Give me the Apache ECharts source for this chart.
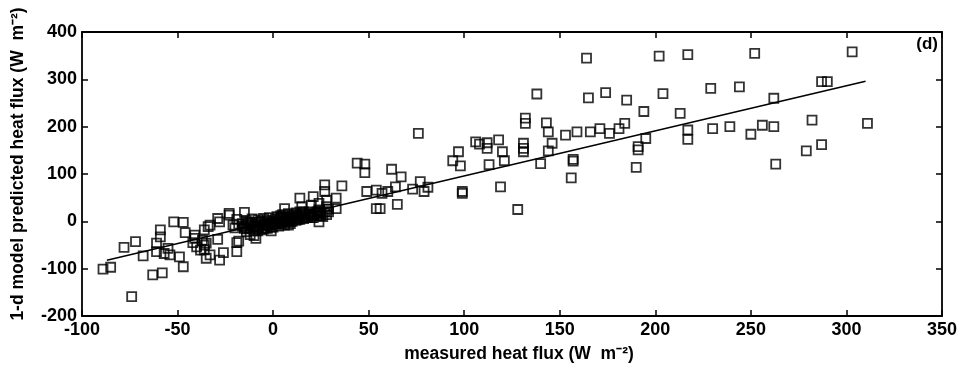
<!DOCTYPE html>
<html>
<head>
<meta charset="utf-8">
<script src="https://cdn.jsdelivr.net/npm/echarts@6/dist/echarts.min.js"></script>
<style>html,body{margin:0;padding:0;background:#fff}#c{width:960px;height:376px}</style>
</head>
<body>
<div id="c"></div>
<script>
// measured heat flux (x) and 1-d model predicted heat flux (y), W m^-2
const measured = [
  -89,-85,-78,-72,-68,-74,-63,-58,-61,-61,-59,-59,-57,-55,-54,-52,-47,-46,-49,-47,
  -41,-40,-37,-41,-38,-36,-35,-33,-34,-28,-26,-19,-19,-29,-28,-23,-21,-15,-9,-29,
  -33,-23,-36,-35,-18,-42,-36,
  -16,-15,-14,-13,-12,-12,-11,-10,-10,-9,-8,-8,-7,-6,-6,-5,-5,-4,-3,-3,
  -2,-2,-1,-1,0,0,1,1,2,2,3,3,4,4,5,5,6,6,7,7,
  8,8,9,9,10,10,11,12,12,13,14,14,15,16,17,18,19,20,21,22,
  23,24,25,26,27,28,29,-12,-10,-14,-18,-19,-20,
  -15,-13,-11,-9,-7,-5,-3,-1,1,3,5,7,9,11,13,15,17,19,21,23,25,-16,-14,-8,-4,0,4,8,12,16,20,24,
  27,27,14,21,15,20,24,24,29,6,24,28,33,33,36,28,
  44,48,48,62,64,49,54,57,60,54,67,65,56,73,77,81,79,76,
  94,97,98,99,99,106,108,112,112,113,118,120,121,119,128,131,131,131,132,132,
  138,140,143,144,144,146,153,156,157,157,159,164,165,166,171,174,176,181,184,185,
  190,191,191,194,195,
  202,204,213,217,217,217,229,230,239,244,250,252,256,262,262,263,279,282,287,287,
  290,303,311
];
const predicted = [
  -101,-97,-55,-43,-73,-159,-113,-109,-46,-64,-18,-33,-68,-57,-71,-1,-2,-24,-75,-96,
  -36,-54,-40,-29,-61,-50,-78,-71,-11,-82,-66,-64,-45,-38,-1,13,-8,19,-36,6,
  -8,17,-18,-46,-42,-45,-60,
  -5,-12,2,-8,-15,-3,5,-10,-20,-2,-14,3,-7,-18,0,-10,6,-4,-15,2,
  -8,8,-3,-20,0,-12,5,-6,-2,10,-10,3,8,-4,0,14,-8,5,10,-2,
  2,16,6,-5,12,0,8,18,2,10,4,20,12,6,16,10,20,14,8,18,
  12,24,16,10,20,14,26,-28,-30,-22,-6,4,-14,
  -15,-2,-6,-12,-1,-16,-8,-12,-2,-5,8,3,0,14,4,16,8,14,12,20,12,-10,-16,-20,-14,-6,12,-8,8,20,8,18,
  77,63,49,52,31,34,38,-1,20,27,22,31,49,27,75,45,
  123,121,103,110,73,63,66,59,63,27,94,36,27,68,84,72,63,186,
  128,147,117,63,59,168,163,166,154,120,172,147,128,73,25,165,154,147,218,207,
  269,122,208,189,149,165,182,92,131,127,189,345,261,189,196,272,186,196,207,256,
  114,158,151,232,175,
  349,270,228,193,173,352,281,196,200,284,184,355,203,260,200,121,149,214,162,295,
  295,358,207
];
// fitted line end points
const fitX = [-87, 310];
const fitY = [-82, 296];

const xTicks = { min: -100, max: 350, step: 50 };
const yTicks = { min: -200, max: 400, step: 100 };

const points = measured.map((x, i) => [x, predicted[i]]);
const fit = fitX.map((x, i) => [x, fitY[i]]);

const font = 'Liberation Sans, Arial, sans-serif';
const axisLine = { show: true, onZero: false, lineStyle: { color: '#000', width: 1.8 } };
const tick = { show: true, inside: true, length: 6, lineStyle: { color: '#000', width: 1.5 } };

const chart = echarts.init(document.getElementById('c'));
chart.setOption({
  animation: false,
  backgroundColor: '#fff',
  grid: { left: 82, right: 18, top: 32, bottom: 60, show: false },
  xAxis: [
    {
      type: 'value', min: xTicks.min, max: xTicks.max, interval: xTicks.step,
      axisLine, axisTick: tick, splitLine: { show: false },
      axisLabel: { color: '#000', fontFamily: font, fontSize: 18, fontWeight: 'bold', margin: 5 },
      name: 'measured heat flux (W  m\u207B\u00B2)', nameLocation: 'middle', nameGap: 29,
      nameTextStyle: { color: '#000', fontFamily: font, fontSize: 17.5, fontWeight: 'bold', padding: [0, 0, 0, 14] }
    },
    {
      type: 'value', position: 'top', min: xTicks.min, max: xTicks.max, interval: xTicks.step,
      axisLine, axisTick: tick, axisLabel: { show: false }, splitLine: { show: false }
    }
  ],
  yAxis: [
    {
      type: 'value', min: yTicks.min, max: yTicks.max, interval: yTicks.step,
      axisLine, axisTick: tick, splitLine: { show: false },
      axisLabel: { color: '#000', fontFamily: font, fontSize: 18, fontWeight: 'bold', margin: 5 },
      name: '1-d model predicted heat flux (W  m\u207B\u00B2)', nameLocation: 'middle', nameGap: 55, nameRotate: 90,
      nameTextStyle: { color: '#000', fontFamily: font, fontSize: 17.5, fontWeight: 'bold', padding: [0, 0, 0, 20] }
    },
    {
      type: 'value', position: 'right', min: yTicks.min, max: yTicks.max, interval: yTicks.step,
      axisLine, axisTick: tick, axisLabel: { show: false }, splitLine: { show: false }
    }
  ],
  graphic: [
    { type: 'text', right: 22, top: 36, style: { text: '(d)', fill: '#000', font: 'bold 17px ' + font } }
  ],
  series: [
    {
      type: 'scatter', data: points, symbol: 'rect', symbolSize: 9,
      itemStyle: { color: 'rgba(0,0,0,0)', borderColor: '#000', borderWidth: 1.8 },
      z: 2
    },
    {
      type: 'line', data: fit, symbol: 'none', silent: true,
      lineStyle: { color: '#000', width: 1.5 }, z: 3
    }
  ]
});
</script>
</body>
</html>
